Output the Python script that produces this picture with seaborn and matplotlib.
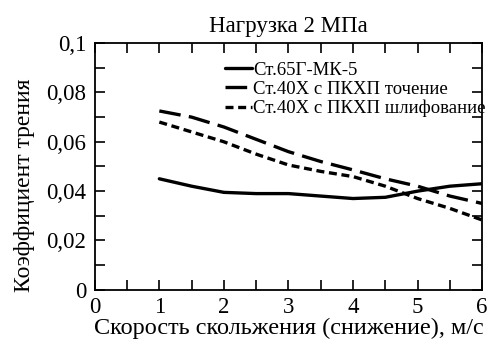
import numpy as np
import pandas as pd
import matplotlib
matplotlib.use('Agg')
import matplotlib.pyplot as plt
from matplotlib.ticker import MultipleLocator, FuncFormatter
import seaborn as sns

speed = [1, 1.5, 2, 2.5, 3, 3.5, 4, 4.5, 5, 5.5, 6]
mk5 = [0.045, 0.042, 0.0395, 0.039, 0.039, 0.038, 0.037, 0.0375, 0.040, 0.042, 0.043]
turning = [0.0725, 0.070, 0.066, 0.061, 0.056, 0.052, 0.0486, 0.045, 0.042, 0.038, 0.035]
grinding = [0.068, 0.064, 0.060, 0.055, 0.0506, 0.048, 0.0459, 0.042, 0.037, 0.033, 0.0283]
labels = ['Ст.65Г-МК-5', 'Ст.40Х с ПКХП точение', 'Ст.40Х с ПКХП шлифование']

df = pd.DataFrame({'speed': speed * 3,
                   'mu': mk5 + turning + grinding,
                   'series': sum([[l] * len(speed) for l in labels], [])})

sns.set_theme(style='ticks')
plt.rcParams['font.family'] = ['Liberation Serif', 'DejaVu Serif']
plt.rcParams['text.color'] = 'black'
plt.rcParams['axes.labelcolor'] = 'black'
plt.rcParams['xtick.color'] = 'black'
plt.rcParams['ytick.color'] = 'black'
plt.rcParams['axes.edgecolor'] = 'black'

fig, ax = plt.subplots(figsize=(4.91, 3.45), dpi=100)
styles = {labels[0]: None, labels[1]: (6.5, 2.5), labels[2]: (2.4, 1.4)}
for lab in labels:
    sub = df[df['series'] == lab]
    sns.lineplot(data=sub, x='speed', y='mu', color='black', lw=2.4,
                 label=lab, ax=ax)
for ln, lab in zip(ax.get_lines(), labels):
    if styles[lab] is not None:
        ln.set_dashes(styles[lab])

ax.set_xlim(0, 6)
ax.set_ylim(0, 0.1)
ax.xaxis.set_major_locator(MultipleLocator(1))
ax.xaxis.set_minor_locator(MultipleLocator(0.5))
ax.yaxis.set_major_locator(MultipleLocator(0.02))
ax.yaxis.set_minor_locator(MultipleLocator(0.01))
ax.yaxis.set_major_formatter(FuncFormatter(lambda v, p: ('%g' % round(v, 3)).replace('.', ',')))
ax.tick_params(which='both', direction='in', top=True, right=True, labelsize=16.5, width=1.2, length=7)
ax.tick_params(axis='y', pad=6)
ax.tick_params(axis='x', pad=5)
for s in ax.spines.values():
    s.set_linewidth(1.3)

ax.set_title('Нагрузка 2 МПа', fontsize=16.5, pad=8)
ax.set_xlabel('Скорость скольжения (снижение), м/с', fontsize=17.5, labelpad=0)
ax.set_ylabel('Коэффициент трения', fontsize=17)
ax.yaxis.set_label_coords(-0.153, 0.425)

leg = ax.legend(loc='upper left', bbox_to_anchor=(0.336, 0.925), frameon=False, fontsize=13.5,
                handlelength=1.45, handletextpad=0.05, labelspacing=0.1, borderaxespad=0,
                borderpad=0)

fig.subplots_adjust(left=0.193, right=0.982, top=0.875, bottom=0.16)
fig.savefig('out.png', dpi=100)
